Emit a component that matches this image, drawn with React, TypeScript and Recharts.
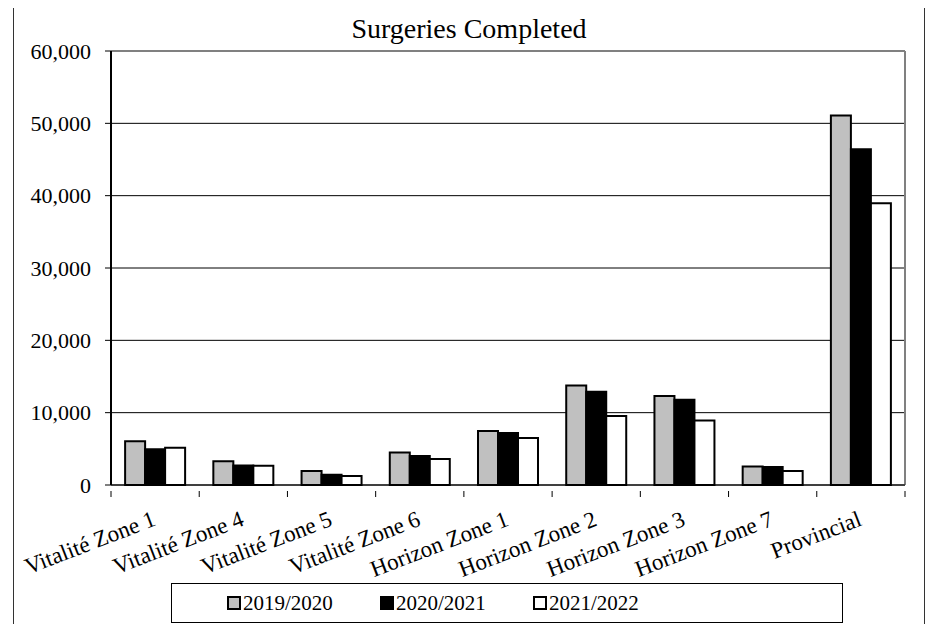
import { BarChart, Bar, XAxis, YAxis, CartesianGrid, Legend } from "recharts";

const categories = [
  "Vitalité Zone 1",
  "Vitalité Zone 4",
  "Vitalité Zone 5",
  "Vitalité Zone 6",
  "Horizon Zone 1",
  "Horizon Zone 2",
  "Horizon Zone 3",
  "Horizon Zone 7",
  "Provincial",
];
const y2019 = [6050, 3300, 1950, 4500, 7450, 13750, 12300, 2550, 51100];
const y2020 = [4950, 2700, 1400, 4000, 7200, 12900, 11800, 2500, 46400];
const y2021 = [5150, 2650, 1250, 3600, 6500, 9550, 8900, 1950, 38950];
const yTicks = [0, 10000, 20000, 30000, 40000, 50000, 60000];

const series = [
  { key: "2019/2020", values: y2019, fill: "#c0c0c0" },
  { key: "2020/2021", values: y2020, fill: "#000000" },
  { key: "2021/2022", values: y2021, fill: "#ffffff" },
];

const data = categories.map((name, i) => {
  const row: Record<string, string | number> = { name };
  series.forEach((s) => (row[s.key] = s.values[i]));
  return row;
});

const FONT = "'Liberation Serif', 'DejaVu Serif', serif";

// label ends at the category centre; tick marks sit on the band edges
function CategoryTick({ x, y, payload, index, visibleTicksCount }: any) {
  const half = payload.offset || 0;
  const axisY = y - 2;
  const tx = x + 2;
  const ty = y + 32;
  return (
    <g>
      <line x1={x - half} x2={x - half} y1={axisY} y2={axisY + 6} stroke="#000" />
      {index === visibleTicksCount - 1 && (
        <line x1={x + half} x2={x + half} y1={axisY} y2={axisY + 6} stroke="#000" />
      )}
      <text
        x={tx}
        y={ty}
        transform={`rotate(-21, ${tx}, ${ty})`}
        textAnchor="end"
        fontFamily={FONT}
        fontSize={23}
        fill="#000"
      >
        {payload.value}
      </text>
    </g>
  );
}

function LegendBox() {
  return (
    <div
      style={{
        width: 672,
        height: 40,
        boxSizing: "border-box",
        border: "1px solid #000",
        background: "#fff",
        display: "flex",
        alignItems: "center",
        paddingLeft: 55,
        fontFamily: FONT,
        fontSize: 21,
      }}
    >
      {series.map((s) => (
        <div key={s.key} style={{ width: 153, display: "flex", alignItems: "center" }}>
          <span
            style={{
              display: "inline-block",
              width: 10,
              height: 10,
              border: "2px solid #000",
              background: s.fill,
              marginRight: 2,
            }}
          />
          <span>{s.key}</span>
        </div>
      ))}
    </div>
  );
}

export default function App() {
  return (
    <div style={{ margin: -8, width: 933, height: 632, position: "relative", background: "#fff" }}>
      <div
        style={{
          position: "absolute",
          left: 13,
          top: 4,
          width: 912,
          height: 624,
          boxSizing: "border-box",
          border: "1px solid #333",
          pointerEvents: "none",
        }}
      />
      <div
        style={{
          position: "absolute",
          left: 13,
          width: 912,
          top: 13,
          textAlign: "center",
          fontFamily: FONT,
          fontSize: 28,
          lineHeight: "32px",
          color: "#000",
        }}
      >
        Surgeries Completed
      </div>
      <BarChart
        width={933}
        height={632}
        data={data}
        margin={{ top: 51, right: 28, bottom: 57, left: 0 }}
        barCategoryGap="16%"
        barGap={0}
      >
        <CartesianGrid vertical={false} stroke="#000" strokeWidth={1} />
        {/* grey frame on the top and right of the plot area */}
        <CartesianGrid
          stroke="#808080"
          strokeWidth={2}
          horizontalCoordinatesGenerator={({ offset }: any) => [offset.top]}
          verticalCoordinatesGenerator={({ offset }: any) => [offset.left + offset.width]}
        />
        <XAxis
          dataKey="name"
          interval={0}
          height={90}
          tickLine={false}
          axisLine={{ stroke: "#000", strokeWidth: 1 }}
          tick={<CategoryTick />}
        />
        <YAxis
          domain={[0, 60000]}
          ticks={yTicks}
          width={111}
          tickSize={6}
          tickMargin={14}
          axisLine={{ stroke: "#000", strokeWidth: 2 }}
          tickLine={{ stroke: "#000" }}
          tick={{ fill: "#000", fontFamily: FONT, fontSize: 22 }}
          tickFormatter={(v: number) => v.toLocaleString("en-US")}
        />
        {series.map((s) => (
          <Bar
            key={s.key}
            dataKey={s.key}
            fill={s.fill}
            stroke="#000"
            strokeWidth={2}
            isAnimationActive={false}
          />
        ))}
        <Legend
          layout="horizontal"
          verticalAlign="middle"
          align="center"
          wrapperStyle={{ left: 171, top: 583, width: 672, height: 40 }}
          content={() => <LegendBox />}
        />
      </BarChart>
    </div>
  );
}
